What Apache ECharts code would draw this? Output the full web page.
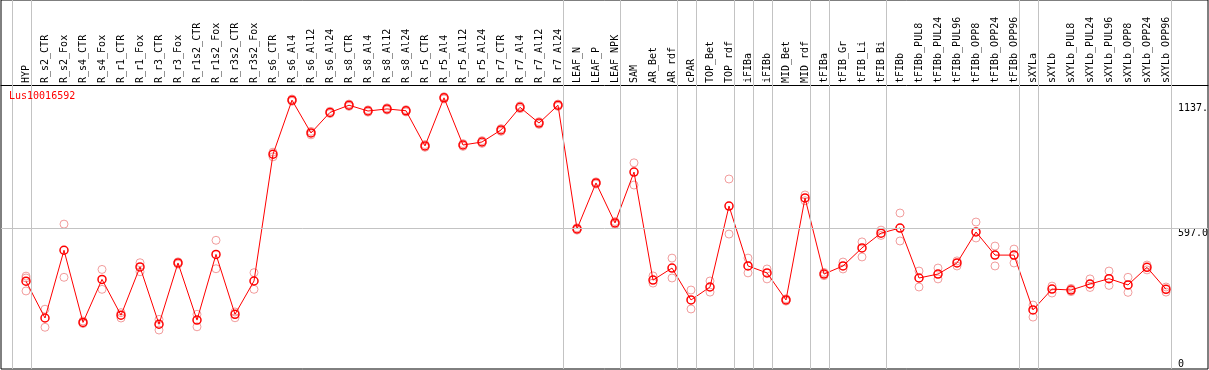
<!DOCTYPE html>
<html><head><meta charset="utf-8">
<script src="https://cdn.jsdelivr.net/npm/echarts@6/dist/echarts.min.js"></script>
<style>html,body{margin:0;padding:0;background:#fff}#c{width:1209px;height:370px}</style>
</head><body><div id="c"></div>
<script>
const chartTitle = 'Lus10016592';
const categories = ['HYP','R_s2_CTR','R_s2_Fox','R_s4_CTR','R_s4_Fox','R_r1_CTR','R_r1_Fox','R_r3_CTR','R_r3_Fox','R_r1s2_CTR','R_r1s2_Fox','R_r3s2_CTR','R_r3s2_Fox','R_s6_CTR','R_s6_Al4','R_s6_Al12','R_s6_Al24','R_s8_CTR','R_s8_Al4','R_s8_Al12','R_s8_Al24','R_r5_CTR','R_r5_Al4','R_r5_Al12','R_r5_Al24','R_r7_CTR','R_r7_Al4','R_r7_Al12','R_r7_Al24','LEAF_N','LEAF_P','LEAF_NPK','SAM','AR_Bet','AR_rdf','cPAR','TOP_Bet','TOP_rdf','iFIBa','iFIBb','MID_Bet','MID_rdf','tFIBa','tFIB_Gr','tFIB_Li','tFIB_Bi','tFIBb','tFIBb_PUL8','tFIBb_PUL24','tFIBb_PUL96','tFIBb_OPP8','tFIBb_OPP24','tFIBb_OPP96','sXYLa','sXYLb','sXYLb_PUL8','sXYLb_PUL24','sXYLb_PUL96','sXYLb_OPP8','sXYLb_OPP24','sXYLb_OPP96'];
const meanValues = [367,208,501,189,375,220,429,181,446,199,483,224,368,916,1150,1008,1097,1128,1103,1112,1104,952,1160,956,969,1021,1119,1051,1128,593,792,619,839,372,424,286,342,692,433,403,286,727,398,433,511,575,597,381,398,446,580,480,480,243,333,329,355,378,351,427,332];
const repA = [389,246,614,195,418,231,447,202,451,224,544,234,404,925,1155,1015,1102,1133,1108,1117,1109,958,1165,962,975,1027,1125,1057,1133,598,797,625,879,390,467,329,368,809,467,420,291,740,405,450,537,588,662,411,424,455,623,519,506,264,346,336,377,411,384,437,342];
const repB = [325,168,384,184,332,208,408,156,441,170,421,209,332,905,1145,1000,1092,1123,1098,1107,1099,946,1155,950,963,1015,1113,1045,1123,588,787,613,783,359,381,247,320,571,403,377,281,715,391,420,472,565,541,342,377,433,554,433,446,212,316,322,340,349,319,416,320];
const repExtraIndex = [0];
const repExtraValue = [381];
const groupEnds = [-1,0,28,31,34,35,37,38,39,41,42,45,52,53,60];
const yTickValues = [0, 597, 1137];
const yTickLabels = ['0', '597.0', '1137.'];
const refValue = 597;

const MONO = '"DejaVu Sans Mono", "Liberation Mono", monospace';
const chart = echarts.init(document.getElementById('c'), null, {renderer: 'canvas'});

const idx = categories.map((_, i) => i);
const meanData = meanValues.map((v, i) => [i, v]);
const repData = repA.map((v, i) => [i, v])
  .concat(repB.map((v, i) => [i, v]))
  .concat(repExtraIndex.map((i, k) => [i, repExtraValue[k]]));

const vLines = groupEnds.map(g => ({xAxis: g + 0.247}));

chart.setOption({
  animation: false,
  backgroundColor: '#fff',
  title: {
    text: chartTitle, left: 9, top: 91, padding: 0,
    textStyle: {color: '#ff0000', fontSize: 10, fontWeight: 'normal', fontFamily: MONO}
  },
  grid: {left: 1, right: 1, top: 0, bottom: 1, show: true, borderColor: '#000', borderWidth: 1,
         containLabel: false, outerBoundsMode: 'none'},
  xAxis: {
    type: 'value', position: 'top', offset: -85,
    min: -25 / 19, max: 1182 / 19,
    axisLine: {show: true, onZero: false, lineStyle: {color: '#000', width: 1}},
    axisTick: {show: false},
    splitLine: {show: false},
    axisLabel: {
      customValues: idx, rotate: -90, margin: 2, fontSize: 10, fontFamily: MONO, color: '#000',
      hideOverlap: false,
      formatter: v => categories[Math.round(v)]
    }
  },
  yAxis: {
    type: 'value', position: 'right', min: -12.5, max: 1583,
    axisLine: {show: false}, axisTick: {show: false}, splitLine: {show: false},
    axisLabel: {
      customValues: yTickValues, inside: true, margin: 30, align: 'left', verticalAlign: 'middle',
      fontSize: 10, fontFamily: MONO, color: '#000',
      formatter: v => {
        const t = yTickLabels[yTickValues.indexOf(v)];
        return v === 0 ? '{b|' + t + '}' : '{a|' + t + '}';
      },
      rich: {
        a: {padding: [11, 0, 0, 0], lineHeight: 11, fontSize: 10, fontFamily: MONO, color: '#000'},
        b: {padding: [0, 0, 3, 0], lineHeight: 11, fontSize: 10, fontFamily: MONO, color: '#000'}
      }
    }
  },
  series: [
    {
      type: 'line', data: [], z: 1, silent: true,
      markLine: {
        silent: true, symbol: ['none', 'none'], label: {show: false},
        lineStyle: {color: '#c3c3c3', width: 1, type: 'solid'},
        data: vLines.concat([{yAxis: refValue}])
      }
    },
    {
      type: 'scatter', data: repData, z: 2, symbol: 'circle', symbolSize: 8,
      itemStyle: {color: 'rgba(0,0,0,0)', borderColor: '#ee8585', borderWidth: 1}
    },
    {
      type: 'line', data: meanData, z: 3, symbol: 'circle', symbolSize: 8, showSymbol: true,
      lineStyle: {color: '#ff0000', width: 1},
      itemStyle: {color: 'rgba(0,0,0,0)', borderColor: '#ff0000', borderWidth: 1.5}
    }
  ]
});
</script>
</body></html>
